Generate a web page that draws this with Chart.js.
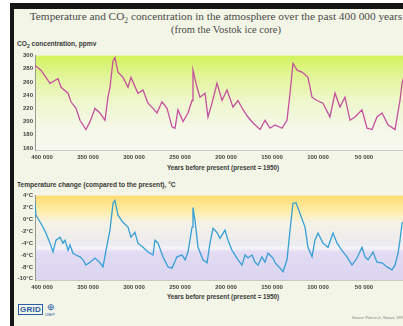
<!DOCTYPE html>
<html>
<head>
<meta charset="utf-8">
<script src="https://cdn.jsdelivr.net/npm/chart.js@4.4.1/dist/chart.umd.min.js"></script>
<style>
  html, body { margin:0; padding:0; width:403px; height:326px; overflow:hidden; background:#fff; }
  #frame { position:absolute; left:10px; top:3px; width:440px; height:340px;
           border-left:4px solid #151515; border-top:6px solid #151515; background:#f3f5e6; }
  .txt { position:absolute; white-space:nowrap; font-family:"Liberation Sans", Arial, sans-serif; color:#3a3a3a; }
  .ttl { font-family:"Liberation Serif", serif; text-align:center; color:#4a4a4a; }
  #title1 { left:0; width:432px; top:10px; font-size:11.3px; }
  #title2 { left:0; width:452px; top:24px; font-size:10.5px; }
  .panel { font-size:6.6px; font-weight:bold; }
  .xtitle { font-size:6.3px; font-weight:bold; }
  canvas { position:absolute; }
  #logo { left:18px; top:305px; font-size:8px; font-weight:bold; color:#2a5aa8; letter-spacing:0.3px; }
  #emb { left:47px; top:302px; font-size:9px; color:#2a5aa8; }
  #emb2 { left:45px; top:313px; font-size:3.5px; color:#2a5aa8; }
  #credit { left:352px; top:316px; font-size:3.6px; color:#777; }
</style>
</head>
<body>
<div id="frame"></div>
<div id="title1" class="txt ttl">Temperature and CO<sub style="font-size:7.5px;line-height:0">2</sub> concentration in the atmosphere over the past 400 000 years</div>
<div id="title2" class="txt ttl">(from the Vostok ice core)</div>
<div class="txt panel" style="left:17px;top:40px;">CO<sub style="font-size:5px;line-height:0">2</sub> concentration, ppmv</div>
<div class="txt xtitle" style="left:167px;top:164px;">Years before present (present = 1950)</div>
<div class="txt panel" style="left:17px;top:181px;">Temperature change (compared to the present), °C</div>
<div class="txt xtitle" style="left:167px;top:293px;">Years before present (present = 1950)</div>
<div id="logo" class="txt"><span style="border:1px solid #2a5aa8;padding:0 1px;">GRID</span></div>
<div id="emb" class="txt">&#x2295;</div>
<div id="emb2" class="txt">UNEP</div>
<div id="credit" class="txt">Source: Petit et al., Nature, 1999</div>

<canvas id="co2" width="400" height="115" style="left:14px;top:50px;"></canvas>
<canvas id="temp" width="400" height="105" style="left:14px;top:190px;"></canvas>

<script>
// Vostok ice core record, years before present
const co2Years = [407600,401100,391300,382600,379300,371700,368500,363000,358700,352200,347800,342400,337000,331500,328300,326100,322800,320700,317400,312000,306500,303300,295700,290200,284800,279300,275000,269600,264100,258700,255400,252200,246700,241300,236900,235900,231500,228300,222800,219600,215200,209800,204300,198900,192400,187000,181500,176100,170600,163000,157600,152200,146700,139100,133700,130400,127200,122800,117400,110900,106500,101100,94600,87000,81500,76100,70700,65200,59800,52200,46700,41300,35900,30400,23900,16300,10900,8700,5000];
const co2Ppmv = [285,278,258,265,252,243,230,220,202,188,200,220,213,202,237,252,292,297,275,267,252,267,243,248,228,220,213,230,220,192,190,218,200,213,232,278,252,237,243,207,228,258,232,248,222,232,218,207,198,188,202,190,195,190,202,243,288,278,275,267,237,232,228,207,243,222,237,202,207,218,190,188,207,213,195,188,232,258,276];

const tempYears = [407600,406500,401100,395700,391300,388000,384800,380400,377200,375000,371700,369600,366300,363000,358700,355400,352200,347800,342400,337000,333700,330400,326100,322800,320700,317400,312000,306500,303300,299000,295700,290200,284800,279300,277200,273900,268500,263000,258700,253300,247800,244400,241300,236900,235900,233700,230400,225000,220600,217400,214100,209800,206500,201100,197800,193500,190200,186900,182600,179300,176100,171700,168500,165200,160900,157600,154300,148900,146700,141300,138000,133700,130400,127200,123900,119600,114100,110900,106500,103300,100000,94600,89100,83700,79300,74000,68500,63000,57600,52200,48900,45600,40200,35900,30400,25000,19600,16300,13000,10900,8700,5000];
const tempChange = [2.7,0.7,-0.7,-2.3,-4.0,-5.5,-3.5,-3.0,-4.0,-3.5,-5.2,-4.3,-5.7,-6.0,-6.3,-6.8,-7.7,-7.2,-6.5,-7.3,-8.0,-5.2,-1.8,2.7,3.2,0.7,-0.5,-1.3,-3.0,-2.2,-4.0,-4.7,-5.5,-6.0,-3.5,-4.0,-6.3,-8.0,-8.2,-6.3,-6.0,-6.8,-5.5,-1.3,2.0,-0.2,-4.7,-6.8,-7.3,-4.0,-1.5,-2.2,-3.2,-1.8,-3.5,-5.2,-6.0,-6.8,-7.7,-6.0,-6.5,-6.0,-7.2,-7.7,-6.3,-7.2,-5.7,-6.5,-7.3,-8.2,-8.8,-6.8,-1.8,2.7,2.8,1.0,-1.3,-4.7,-6.3,-3.5,-2.3,-4.0,-4.7,-2.3,-4.0,-5.2,-6.3,-7.7,-6.5,-4.7,-6.3,-6.8,-5.5,-7.2,-7.3,-8.0,-8.5,-7.7,-5.7,-3.5,-0.7,0.0];

const yearTicks = [400000,350000,300000,250000,200000,150000,100000,50000];
const co2Ticks = [160,180,200,220,240,260,280,300];
const tempTicks = [-10,-8,-6,-4,-2,0,2,4];

// vertical colour wash behind each plot area
const bandFill = {
  id: 'bandFill',
  beforeDraw(chart, args, opts) {
    const { ctx, chartArea: a } = chart;
    const g = ctx.createLinearGradient(0, a.top, 0, a.bottom);
    opts.stops.forEach(([p, c]) => g.addColorStop(p, c));
    ctx.save();
    ctx.fillStyle = g;
    ctx.fillRect(a.left, a.top, a.right - a.left, a.bottom - a.top);
    ctx.restore();
  }
};

const tickFont = { family: '"Liberation Sans", Arial, sans-serif', size: 6, weight: 'bold' };

function fmtYears(v) {
  return String(v).replace(/(\d)(?=(\d{3})+$)/g, '$1 ');
}

function makeChart(id, xs, ys, color, yMin, yMax, yTicks, yFmt, stops) {
  return new Chart(document.getElementById(id), {
    type: 'line',
    data: {
      datasets: [{
        data: xs.map((x, i) => ({ x, y: ys[i] })),
        borderColor: color,
        borderWidth: 1.3,
        pointRadius: 0,
        tension: 0,
        fill: false
      }]
    },
    options: {
      responsive: false,
      animation: false,
      devicePixelRatio: 1,
      layout: { padding: { top: 5, right: 4, left: 0, bottom: 0 } },
      plugins: { legend: { display: false }, tooltip: { enabled: false }, bandFill: { stops } },
      scales: {
        x: {
          type: 'linear',
          reverse: true,
          min: 0,
          max: 407600,
          afterBuildTicks: s => { s.ticks = yearTicks.map(v => ({ value: v })); },
          afterFit: s => { s.height = 15; },
          grid: { display: false, drawTicks: false },
          border: { display: true, color: '#c9c9c0', width: 1, dash: [1, 2] },
          ticks: { font: tickFont, color: '#444', padding: 4, maxRotation: 0, autoSkip: false,
                   callback: v => fmtYears(v) }
        },
        y: {
          min: yMin,
          max: yMax,
          afterBuildTicks: s => { s.ticks = yTicks.map(v => ({ value: v })); },
          afterFit: s => { s.width = 21; },
          grid: { display: false, drawTicks: false },
          border: { display: true, color: '#9a9a94', width: 1, dash: [1, 1] },
          ticks: { font: tickFont, color: '#444', padding: 2, autoSkip: false, callback: yFmt }
        }
      }
    },
    plugins: [bandFill]
  });
}

makeChart('co2', co2Years, co2Ppmv, '#c4509e', 157, 300, co2Ticks, v => String(v), [
  [0, '#d4f25c'], [0.22, '#e2f59a'], [0.5, '#eff7cf'], [0.8, '#f5f8ea'], [1, '#f7f8f0']
]);

makeChart('temp', tempYears, tempChange, '#35a0d6', -10.2, 4, tempTicks, v => v + '°C', [
  [0, '#ffdc70'], [0.2, '#ffefb0'], [0.32, '#f5f2e6'], [0.58, '#ecebee'], [0.62, '#f6f6fa'],
  [0.67, '#e2dbf3'], [1, '#dcd5f1']
]);
</script>
</body>
</html>
